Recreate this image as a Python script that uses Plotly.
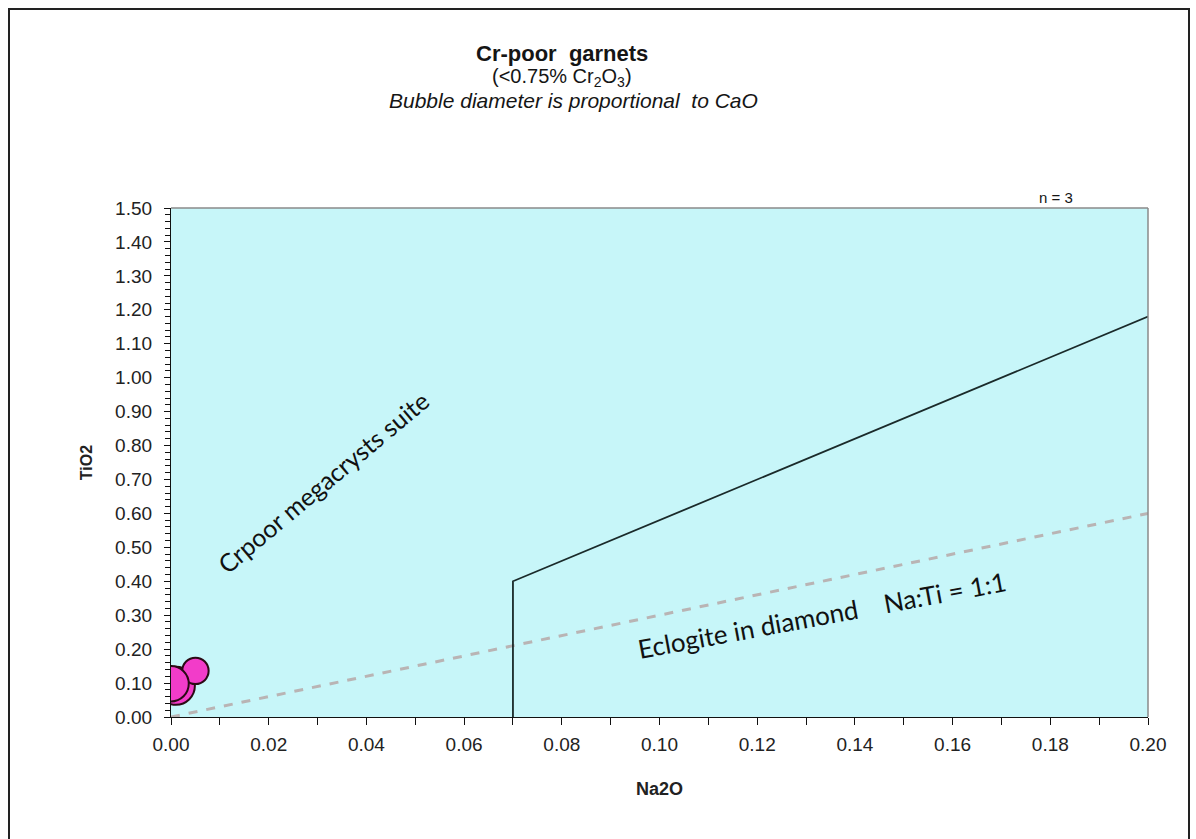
import plotly.graph_objects as go

# Garnet analyses (wt%)
na2o = [0.001, 0.005, 0.000]
tio2 = [0.092, 0.136, 0.098]
cao = [4.6, 3.2, 4.3]

# Field boundary for the Cr-poor megacryst suite
boundary_x = [0.07, 0.07, 0.20]
boundary_y = [0.00, 0.40, 1.18]

# Na:Ti = 1:1 reference line
ratio_x = [0.00, 0.20]
ratio_y = [0.00, 0.60]

x_ticks = [0.00, 0.02, 0.04, 0.06, 0.08, 0.10, 0.12, 0.14, 0.16, 0.18, 0.20]
y_ticks = [0.00, 0.10, 0.20, 0.30, 0.40, 0.50, 0.60, 0.70, 0.80, 0.90,
           1.00, 1.10, 1.20, 1.30, 1.40, 1.50]

W, H = 1196, 839
L, R, T, B = 171, 48, 208, 122
pw, ph = W - L - R, H - T - B


def px(x):
    return (x - L) / pw


def py(y):
    return (H - B - y) / ph


fig = go.Figure()

fig.add_trace(go.Scatter(
    x=ratio_x, y=ratio_y, mode="lines",
    line=dict(color="#B9B4B4", width=3, dash="dash"),
    hoverinfo="skip", showlegend=False))

fig.add_trace(go.Scatter(
    x=boundary_x, y=boundary_y, mode="lines",
    line=dict(color="#1A2A2A", width=1.8),
    hoverinfo="skip", showlegend=False))

fig.add_trace(go.Scatter(
    x=na2o, y=tio2, mode="markers",
    marker=dict(size=cao, sizemode="diameter", sizeref=4.6 / 38,
                color="#F23CC9", opacity=1,
                line=dict(color="#2A0A14", width=2)),
    cliponaxis=True, showlegend=False))

sans = "Liberation Sans, Arial, sans-serif"
narrow = "Liberation Sans Narrow, Liberation Sans, sans-serif"

fig.update_xaxes(
    range=[0, 0.2], tickvals=x_ticks, ticktext=[f"{v:.2f}" for v in x_ticks],
    showgrid=False, zeroline=False, showline=True, linecolor="#111", linewidth=1.2,
    ticks="outside", ticklen=7, tickcolor="#111", tickwidth=1.2,
    ticklabelstandoff=3,
    tickfont=dict(family=narrow, size=19, color="#222"),
    minor=dict(dtick=0.01, ticks="outside", ticklen=7, tickcolor="#111", tickwidth=1.2),
    title=dict(text="<b>Na2O</b>", standoff=28,
               font=dict(family=narrow, size=18, color="#222")),
)
fig.update_yaxes(
    range=[0, 1.5], tickvals=y_ticks, ticktext=[f"{v:.2f}" for v in y_ticks],
    showgrid=False, zeroline=False, showline=True, linecolor="#111", linewidth=1.2,
    ticks="outside", ticklen=6, tickcolor="#111", tickwidth=1.2,
    ticklabelstandoff=8,
    tickfont=dict(family=sans, size=19, color="#222"),
    minor=dict(dtick=0.02, ticks="outside", ticklen=5, tickcolor="#111", tickwidth=1),
    title=dict(text="<b>TiO2</b>", standoff=18,
               font=dict(family=sans, size=16, color="#222")),
)

shapes = [
    # top and right edges of the plot area
    dict(type="line", xref="paper", yref="paper", x0=0, x1=1, y0=1, y1=1,
         line=dict(color="#8A8A8A", width=1.5)),
    dict(type="line", xref="paper", yref="paper", x0=1, x1=1, y0=0, y1=1,
         line=dict(color="#8A8A8A", width=1.5)),
    # outer chart frame
    dict(type="rect", xref="paper", yref="paper",
         x0=px(9), x1=px(1189), y0=py(9), y1=py(860),
         line=dict(color="#222", width=2), fillcolor="rgba(0,0,0,0)", layer="below"),
]


def label(text, x, y, size, **kw):
    return dict(text=text, x=px(x), y=py(y), xref="paper", yref="paper",
                xanchor="center", yanchor="middle", showarrow=False,
                font=dict(family=sans, size=size, color="#151515"), **kw)


annotations = [
    label("<b>Cr-poor  garnets</b>", 562, 54, 22),
    label("(<0.75% Cr<sub>2</sub>O<sub>3</sub>)", 562, 77, 20),
    label("<i>Bubble diameter is proportional  to CaO</i>", 573, 101, 21),
    label("n = 3", 1056, 197, 15),
    dict(text="Crpoor megacrysts suite", x=0.0311, y=0.693, xref="x", yref="y",
         xanchor="center", yanchor="middle", showarrow=False, textangle=-40,
         font=dict(family="Lato, Open Sans, sans-serif", size=25, color="#111")),
    dict(text="Eclogite in diamond    Na:Ti = 1:1", x=0.1333, y=0.30, xref="x", yref="y",
         xanchor="center", yanchor="middle", showarrow=False, textangle=-10.5,
         font=dict(family="Lato, Open Sans, sans-serif", size=26, color="#111")),
]

fig.update_layout(
    width=W, height=H,
    margin=dict(l=L, r=R, t=T, b=B),
    paper_bgcolor="white", plot_bgcolor="#C7F6F9",
    shapes=shapes, annotations=annotations,
    showlegend=False,
)

fig.write_html("out.html")
